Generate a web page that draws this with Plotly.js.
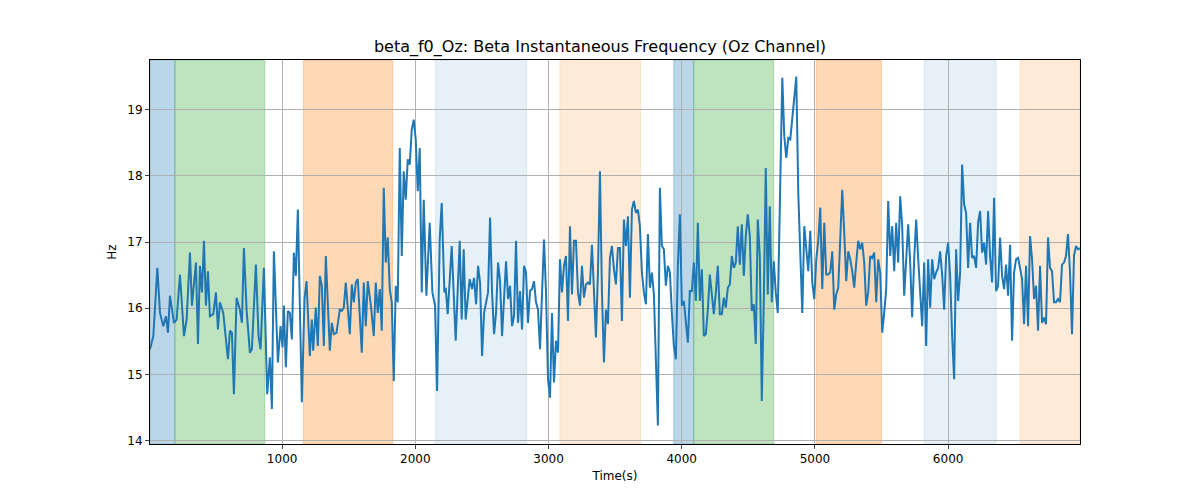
<!DOCTYPE html>
<html>
<head>
<meta charset="utf-8">
<script src="https://cdn.plot.ly/plotly-3.0.1.min.js"></script>
<style>body{margin:0;background:#fff}</style>
</head>
<body>
<div id="chart" style="width:1200px;height:500px"></div>
<script>
var times = [8,33,63,83,108,128,143,158,188,208,233,263,283,308,323,353,368,383,398,413,428,443,458,483,503,518,533,558,593,608,623,638,658,683,698,713,733,758,773,803,823,838,863,888,908,923,938,968,988,1003,1013,1028,1043,1058,1073,1088,1103,1118,1148,1168,1183,1208,1223,1233,1253,1268,1283,1298,1313,1328,1358,1373,1388,1408,1433,1448,1463,1478,1508,1523,1538,1553,1568,1598,1613,1628,1643,1668,1688,1703,1718,1733,1748,1763,1778,1793,1808,1823,1838,1853,1868,1883,1898,1913,1928,1943,1958,1973,1988,2003,2018,2033,2048,2063,2083,2108,2128,2148,2163,2183,2198,2218,2228,2243,2273,2303,2333,2348,2363,2378,2408,
2426,2441,2456,2471,2486,2501,2516,2546,2561,2576,2591,2606,2621,2636,2651,2681,2696,2711,2726,2741,2756,2771,2786,2801,2816,2831,2846,2861,2876,2891,2906,2921,2936,2966,2981,2996,3011,3026,3041,3056,3071,3086,3101,3116,3131,3146,3161,3176,3191,3206,3221,3236,3251,3266,3281,3296,3311,3326,3341,3356,3371,3386,3401,3416,3431,3446,3461,3476,3491,3506,3521,3536,3551,3566,3581,3596,3611,3626,3641,3656,3671,3686,3701,3716,3731,3746,3761,3776,3791,3806,3821,3836,3851,3866,3881,3896,3911,3926,3941,3956,3971,3986,4001,4016,4031,4046,4061,4076,4091,4106,4121,4136,4151,4166,4181,4196,4211,4226,4241,4256,4271,4286,4301,4316,4331,4346,4361,4376,4391,4406,4421,4436,4451,4466,4481,4496,4511,4526,4541,4556,4571,4586,4601,4616,4631,4646,4661,4676,4691,4706,4721,
4755,4770,4785,4800,4815,4830,4845,4860,4875,4890,4905,4920,4935,4950,4965,4980,4995,5010,5025,5040,5055,5070,5085,5100,5115,5130,5145,5160,5175,5190,5205,5220,5235,5250,5265,5280,5295,5310,5325,5340,5355,5370,5385,5400,5415,5430,5445,5460,5475,5490,5505,5520,5535,5550,5565,5580,5595,5610,5625,5640,5655,5670,5685,5700,5715,5730,5745,5760,5775,5790,5805,5820,5835,5850,5865,5880,5895,5910,5925,5940,5955,5970,5985,6000,6015,6030,6045,6060,6075,6090,6105,6120,6135,6150,6165,6180,6195,6210,6225,6240,6255,6270,6285,6300,6315,6330,6345,6360,6375,6390,6405,6420,6435,6450,6465,6480,6495,6510,6525,6540,6555,6570,6585,6600,6615,6630,6645,6660,6675,6690,6705,6720,6735,6750,6765,6780,6795,6810,6825,6840,6855,6870,6885,6900,6915,6930,6945,6960,6975,6990];

var freqHz = [15.38,15.58,16.61,15.93,15.73,15.88,15.63,16.19,15.78,15.83,16.51,15.58,15.83,16.84,16.04,16.69,15.46,16.64,16.24,17.02,16.04,16.56,15.88,15.91,16.24,15.68,16.09,15.93,15.23,15.66,15.63,14.70,16.16,15.98,15.78,16.91,15.98,15.33,15.38,16.66,15.58,15.38,16.61,14.70,15.26,14.48,16.86,15.18,15.73,15.41,16.04,15.11,15.96,15.93,15.53,16.84,16.49,17.49,14.58,16.14,16.41,15.28,15.83,15.36,16.01,15.43,16.49,16.34,15.43,16.79,15.36,15.78,15.61,15.63,15.98,15.96,16.01,16.39,15.61,16.36,16.09,16.39,16.44,15.33,16.39,15.73,16.41,16.01,15.58,16.39,15.93,16.29,15.66,17.82,16.69,17.07,16.29,16.09,14.90,16.34,16.09,18.42,16.79,18.07,17.64,18.25,18.17,18.70,18.85,18.55,17.77,18.42,16.24,17.64,16.19,17.29,16.24,16.04,14.75,17.04,17.59,16.24,16.31,15.91,16.94,15.51,17.02,15.83,16.89,15.83,16.44,
16.29,16.46,16.06,16.64,16.39,15.28,15.93,16.24,17.37,16.24,15.61,15.93,16.69,16.41,15.58,16.71,16.14,16.34,15.73,15.88,17.02,15.78,16.26,15.68,16.64,16.54,15.78,16.26,16.29,16.41,16.09,15.98,15.38,17.04,16.24,14.93,14.65,15.93,14.88,15.51,15.33,16.74,16.24,16.64,16.79,15.81,17.24,16.21,17.02,17.02,16.24,16.04,16.64,16.16,16.36,16.39,16.36,16.96,16.14,15.56,16.54,18.07,16.24,15.18,15.98,15.76,16.76,16.94,16.59,16.36,16.91,16.91,15.81,17.34,16.94,17.39,16.16,17.49,17.62,17.44,17.49,17.24,16.54,16.24,16.06,17.12,16.31,16.54,16.21,15.28,14.23,17.82,16.94,16.89,16.34,16.64,16.54,15.93,15.43,15.23,16.64,17.42,16.04,16.11,15.83,15.48,16.26,16.26,16.69,16.11,17.29,16.11,16.59,15.58,15.61,15.98,16.51,16.19,15.91,16.24,16.64,15.91,15.91,16.16,16.01,16.31,16.36,16.79,16.61,16.69,17.24,16.66,17.27,16.49,17.09,17.42,17.09,15.96,16.06,15.46,17.34,16.79,14.60,16.09,18.12,16.21,17.54,16.09,16.71,16.24,15.93,
19.48,18.60,18.27,18.57,18.55,18.85,19.10,19.50,17.74,16.89,15.93,17.24,16.84,16.56,17.17,16.39,16.14,16.74,17.02,17.52,16.29,17.29,16.51,16.51,16.54,16.86,15.98,16.21,16.31,17.09,17.79,17.14,16.41,16.86,16.74,16.56,16.31,16.69,17.02,16.89,16.99,16.69,16.04,16.24,16.79,16.76,16.84,16.09,16.74,16.54,15.63,15.93,16.29,17.62,16.79,17.24,16.56,17.29,16.69,17.69,17.24,16.19,16.79,17.27,16.69,15.86,16.74,17.34,16.76,16.14,15.73,16.69,15.43,16.74,16.01,16.74,16.44,16.54,16.61,16.86,16.51,15.98,16.79,16.99,16.49,15.58,14.93,16.89,16.11,16.54,18.17,17.57,17.44,16.61,17.29,16.76,16.79,16.61,17.29,17.47,16.84,16.99,16.66,17.47,16.79,16.39,17.67,16.26,16.34,17.07,16.49,16.29,16.66,16.19,16.96,15.51,16.54,16.74,16.76,16.61,16.44,15.76,16.64,15.73,17.09,16.74,16.14,16.34,15.66,16.64,15.78,15.86,15.76,17.07,16.61,16.56,16.09,16.09,16.14,16.09,16.66,16.69,16.79,17.12,16.54,15.61,16.79,16.94,16.89,16.91];

// shaded segments: start, end, colour
var bandStart = [8, 195, 1160, 2150, 3085, 3940, 4090, 5010, 5820, 6540];
var bandEnd   = [195, 870, 1830, 2835, 3690, 4090, 4690, 5500, 6360, 6990];
var bandColor = ['rgba(31,119,180,0.3)','rgba(44,160,44,0.3)','rgba(255,127,14,0.3)','rgba(31,119,180,0.11)','rgba(255,127,14,0.16)',
                 'rgba(31,119,180,0.3)','rgba(44,160,44,0.3)','rgba(255,127,14,0.3)','rgba(31,119,180,0.11)','rgba(255,127,14,0.16)'];

var shapes = [];
for (var i = 0; i < bandStart.length; i++) {
  shapes.push({type:'rect', xref:'x', yref:'paper', x0:bandStart[i], x1:bandEnd[i], y0:0, y1:1,
    fillcolor:bandColor[i], line:{width:1, color:bandColor[i]}, layer:'below'});
}

var trace1 = {x: times, y: freqHz, mode: 'lines', type: 'scatter', line: {color: '#1f77b4', width: 2}};

var layout = {
  width: 1200, height: 500,
  margin: {l: 150, r: 120, t: 60, b: 56},
  paper_bgcolor: '#fff', plot_bgcolor: 'rgba(0,0,0,0)',
  font: {family: 'DejaVu Sans', size: 12, color: '#000'},
  title: {text: 'beta_f0_Oz: Beta Instantaneous Frequency (Oz Channel)', font: {size: 16}, x: 0.5, y: 0.918},
  showlegend: false,
  shapes: shapes,
  xaxis: {range: [8, 6990], tickvals: [1000,2000,3000,4000,5000,6000], showgrid: true, gridcolor: '#b0b0b0',
          zeroline: false, showline: true, linecolor: '#000', mirror: true, ticks: 'outside', ticklen: 4,
          title: {text: 'Time(s)', standoff: 6, font: {size: 12}}, layer: 'above traces'},
  yaxis: {range: [13.95, 19.75], tickvals: [14,15,16,17,18,19], showgrid: true, gridcolor: '#b0b0b0',
          zeroline: false, showline: true, linecolor: '#000', mirror: true, ticks: 'outside', ticklen: 4,
          title: {text: 'Hz', standoff: 8, font: {size: 12}}}
};

Plotly.newPlot('chart', [trace1], layout, {displayModeBar: false});
</script>
</body>
</html>
